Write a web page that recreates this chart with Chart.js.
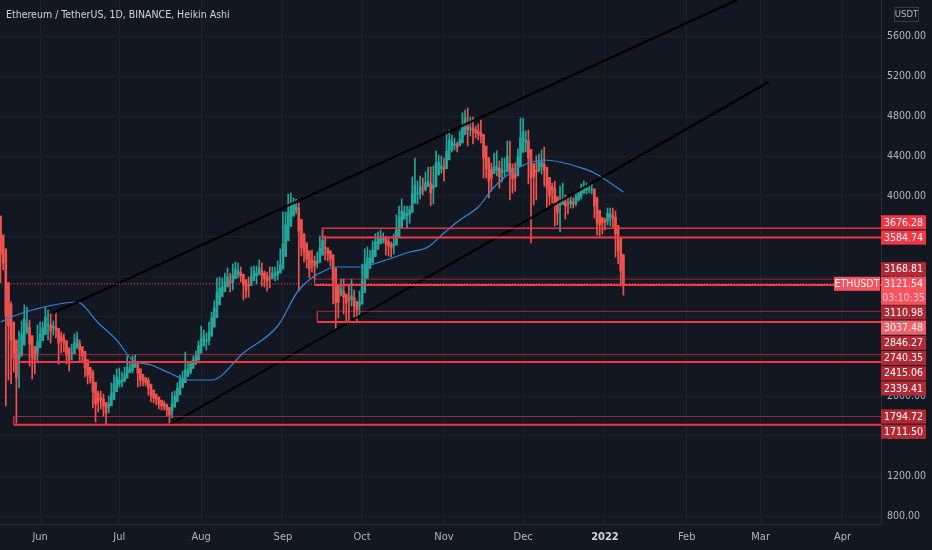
<!DOCTYPE html>
<html>
<head>
<meta charset="utf-8">
<script src="https://cdn.jsdelivr.net/npm/chart.js@4.4.0/dist/chart.umd.min.js"></script>
<style>
html, body { margin: 0; padding: 0; background: #131722; overflow: hidden; }
canvas { display: block; }
</style>
</head>
<body>
<canvas id="chart" width="932" height="550"></canvas>
<script>
// ETHUSDT daily Heikin Ashi, 17 May 2021 -> 8 Jan 2022
const title = 'Ethereum / TetherUS, 1D, BINANCE, Heikin Ashi';
const firstDay = '2021-05-17';
const firstOpen = 3800;

// Heikin Ashi closes, one per day
const closes = [
  // May 17-31
  3420, 3330, 2800, 2700, 2560, 2380, 2180, 2430, 2620, 2770, 2730, 2520, 2390, 2360, 2540,
  // Jun
  2620, 2680, 2790, 2720, 2650, 2700, 2660, 2530, 2550, 2530, 2410, 2360, 2430, 2530, 2570,
  2460, 2400, 2280, 2210, 2180, 2040, 1920, 1940, 1960, 1900, 1830, 1920, 2030, 2120, 2190,
  // Jul
  2160, 2160, 2210, 2290, 2270, 2320, 2340, 2230, 2160, 2150, 2130, 2080, 2000, 1980, 1960, 1920,
  1900, 1900, 1860, 1810, 1930, 2000, 2080, 2160, 2180, 2260, 2270, 2320, 2360, 2400, 2500,
  // Aug
  2570, 2600, 2560, 2640, 2780, 2880, 3040, 3080, 3090, 3140, 3190, 3130, 3210, 3270, 3250, 3200,
  3110, 3060, 3100, 3200, 3250, 3230, 3280, 3210, 3170, 3150, 3170, 3230, 3220, 3250, 3310,
  // Sep
  3520, 3710, 3840, 3900, 3920, 3900, 3650, 3480, 3440, 3370, 3270, 3330, 3300, 3350, 3480,
  3560, 3480, 3420, 3370, 3150, 2930, 2940, 3070, 2990, 2930, 2960, 3000, 2900, 2860, 2940,
  // Oct
  3150, 3320, 3380, 3380, 3460, 3540, 3580, 3590, 3580, 3520, 3500, 3480, 3520, 3660, 3790, 3850,
  3840, 3820, 3860, 4020, 4110, 4030, 4100, 4060, 4130, 4150, 4030, 4110, 4330, 4340, 4300,
  // Nov
  4260, 4450, 4560, 4550, 4520, 4490, 4560, 4700, 4780, 4660, 4680, 4650, 4630, 4620, 4600,
  4380, 4270, 4150, 4180, 4290, 4300, 4190, 4260, 4250, 4400, 4230, 4170, 4180, 4390, 4580,
  // Dec
  4640, 4560, 4380, 4180, 4190, 4240, 4340, 4340, 4260, 4080, 4000, 4060, 3910, 3830, 3920, 3970,
  3900, 3920, 3950, 3920, 3990, 4030, 4060, 4090, 4080, 4070, 4070, 3900, 3730, 3710, 3730,
  // Jan 1-8
  3740, 3830, 3820, 3770, 3620, 3450, 3250, 3120
];

const highs = [
  3590, 3560, 3440, 2990, 2940, 2480, 2380, 2650, 2750, 2910, 2890, 2760, 2570, 2460, 2710,
  2740, 2740, 2890, 2860, 2820, 2750, 2840, 2620, 2640, 2620, 2480, 2420, 2520, 2620, 2640,
  2560, 2440, 2400, 2290, 2290, 2260, 2010, 2050, 2050, 2020, 1920, 2000, 2130, 2210, 2270,
  2280, 2240, 2290, 2400, 2330, 2400, 2410, 2330, 2190, 2200, 2170, 2180, 2040, 2040, 2020, 1980,
  1960, 1950, 1920, 1870, 2040, 2050, 2130, 2210, 2250, 2440, 2330, 2350, 2400, 2450, 2550,
  2700, 2660, 2630, 2740, 2840, 2950, 3180, 3190, 3180, 3230, 3280, 3230, 3320, 3340, 3330, 3290,
  3170, 3140, 3190, 3290, 3300, 3300, 3360, 3330, 3250, 3240, 3290, 3290, 3290, 3350, 3470,
  3840, 3840, 4020, 4030, 3980, 3970, 3930, 3560, 3570, 3520, 3360, 3460, 3400, 3440, 3600,
  3660, 3600, 3480, 3440, 3380, 3100, 3100, 3170, 3170, 3010, 3120, 3170, 3060, 2950, 3050,
  3320, 3470, 3490, 3460, 3550, 3620, 3640, 3660, 3630, 3600, 3590, 3540, 3620, 3810, 3900, 3970,
  3900, 3900, 3900, 4190, 4380, 4150, 4200, 4180, 4240, 4290, 4290, 4300, 4450, 4410, 4400,
  4380, 4620, 4660, 4610, 4580, 4540, 4650, 4830, 4860, 4880, 4790, 4790, 4700, 4720, 4760,
  4590, 4320, 4350, 4330, 4430, 4450, 4350, 4380, 4380, 4550, 4550, 4320, 4330, 4470, 4780,
  4780, 4650, 4660, 4230, 4240, 4400, 4420, 4460, 4490, 4200, 4100, 4130, 4150, 3880, 4100, 4130,
  4010, 3990, 4000, 3980, 4050, 4050, 4120, 4150, 4130, 4120, 4130, 4060, 3830, 3780, 3780,
  3780, 3880, 3880, 3880, 3850, 3580, 3420, 3200
];

const lows = [
  3130, 3260, 1900, 2160, 2120, 2240, 1730, 2080, 2400, 2650, 2620, 2300, 2170, 2220, 2340,
  2520, 2560, 2690, 2560, 2530, 2610, 2580, 2320, 2430, 2440, 2320, 2250, 2360, 2460, 2500,
  2340, 2340, 2190, 2120, 2130, 1880, 1740, 1840, 1870, 1800, 1710, 1830, 1960, 2060, 2130,
  2090, 2090, 2140, 2220, 2240, 2230, 2290, 2090, 2100, 2100, 2100, 2010, 1940, 1930, 1910, 1870,
  1860, 1860, 1800, 1720, 1780, 1960, 2030, 2130, 2140, 2190, 2200, 2220, 2300, 2350, 2440,
  2450, 2540, 2460, 2510, 2740, 2800, 2880, 2990, 2990, 3060, 3110, 3040, 3060, 3190, 3180, 3140,
  2960, 2980, 2990, 3150, 3200, 3120, 3210, 3100, 3090, 3050, 3080, 3180, 3150, 3160, 3270,
  3400, 3680, 3760, 3830, 3850, 3820, 3050, 3400, 3340, 3280, 3180, 3240, 3160, 3280, 3420,
  3480, 3360, 3350, 3300, 2920, 2660, 2780, 3000, 2820, 2750, 2740, 2900, 2790, 2740, 2800,
  2980, 3260, 3310, 3280, 3380, 3420, 3520, 3520, 3530, 3410, 3400, 3390, 3420, 3580, 3760, 3800,
  3780, 3680, 3730, 3840, 3930, 3920, 3970, 4010, 4050, 4100, 3900, 3920, 4180, 4250, 4230,
  4150, 4320, 4490, 4440, 4460, 4440, 4520, 4620, 4720, 4500, 4600, 4520, 4580, 4560, 4530,
  4180, 4180, 3980, 4050, 4230, 4200, 4080, 4140, 4200, 4240, 3960, 4030, 4050, 4300, 4400,
  4520, 4440, 4120, 3530, 3910, 3960, 4250, 4220, 4100, 3880, 3910, 3930, 3700, 3710, 3640, 3920,
  3770, 3820, 3880, 3880, 3900, 3950, 3970, 4050, 4020, 4030, 4020, 3780, 3610, 3600, 3620,
  3660, 3710, 3700, 3680, 3390, 3320, 3100, 3010
];

// moving average
const maDates = ['2021-05-17', '2021-05-22', '2021-05-29', '2021-06-15', '2021-06-23', '2021-06-30',
  '2021-07-06', '2021-07-13', '2021-07-20', '2021-07-27', '2021-08-05', '2021-08-17', '2021-08-30',
  '2021-09-07', '2021-09-19', '2021-09-21', '2021-09-30', '2021-10-10', '2021-10-19', '2021-10-26',
  '2021-11-01', '2021-11-07', '2021-11-14', '2021-11-20', '2021-11-26', '2021-12-03', '2021-12-09',
  '2021-12-15', '2021-12-22', '2021-12-28', '2022-01-03', '2022-01-08'];
const maValues = [2740, 2800, 2860, 2940, 2730, 2560, 2360, 2310, 2230, 2160, 2160, 2430, 2700,
  3060, 3280, 3290, 3290, 3360, 3440, 3490, 3630, 3760, 3890, 4090, 4230, 4330, 4360,
  4340, 4290, 4230, 4130, 4040];

// channel lines [date, price]
const upperChannel = [['2021-06-06', 2830], ['2022-02-20', 5960]];
const lowerChannel = [['2021-07-20', 1711.5], ['2022-03-04', 5140]];

// support / resistance zones
const zoneTops = [3676.28, 3168.81, 2846.27, 2415.06, 1794.72];
const zoneBottoms = [3584.74, 3110.98, 2740.35, 2339.41, 1711.50];
const zoneStarts = ['2021-09-16', '2021-09-13', '2021-09-14', '2021-05-22', '2021-05-22'];

const symbol = 'ETHUSDT';
const lastPrice = 3121.54;
const countdown = '03:10:35';
const haLastClose = 3037.48;

const monthTicks = ['2021-06-01', '2021-07-01', '2021-08-01', '2021-09-01', '2021-10-01', '2021-11-01',
  '2021-12-01', '2022-01-01', '2022-02-01', '2022-03-01', '2022-04-01'];
const monthLabels = ['Jun', 'Jul', 'Aug', 'Sep', 'Oct', 'Nov', 'Dec', '2022', 'Feb', 'Mar', 'Apr'];
const priceTicks = [800, 1200, 1600, 2000, 2400, 2800, 3200, 3600, 4000, 4400, 4800, 5200, 5600];

// ---------------------------------------------------------------
const FONT = '"DejaVu Sans Condensed", "Liberation Sans", sans-serif';
const BG = '#131722';
const BULL = '#26a69a';
const BEAR = '#ef5350';
const LEVEL = '#f23645';
const X_MIN = -15.2, X_MAX = 318.6;

const origin = Date.UTC(2021, 5, 1);
function dayOf(s) {
  const p = s.split('-').map(Number);
  return (Date.UTC(p[0], p[1] - 1, p[2]) - origin) / 864e5;
}

// heikin ashi open = middle of the previous body
const start = dayOf(firstDay);
const bodies = [], wicks = [], colors = [];
let open = firstOpen;
closes.forEach((c, i) => {
  if (i > 0) open = (open + closes[i - 1]) / 2;
  const x = start + i;
  bodies.push({ x: x, y: [open, c] });
  wicks.push({ x: x, y: [Math.min(lows[i], open, c), Math.max(highs[i], open, c)] });
  colors.push(c >= open ? BULL : BEAR);
});

const datasets = [
  { type: 'bar', data: wicks, backgroundColor: colors, barThickness: 1, grouped: false, order: 10 },
  { type: 'bar', data: bodies, backgroundColor: colors, barThickness: 2, grouped: false, order: 9 },
  {
    type: 'line', data: maDates.map((d, i) => ({ x: dayOf(d), y: maValues[i] })),
    borderColor: '#2f86d6', borderWidth: 1.2, pointRadius: 0, tension: 0.4,
    cubicInterpolationMode: 'monotone', order: 5
  }
];
[upperChannel, lowerChannel].forEach(ch => {
  datasets.push({
    type: 'line', data: ch.map(p => ({ x: dayOf(p[0]), y: p[1] })),
    borderColor: '#000000', borderWidth: 2.2, pointRadius: 0, order: 4
  });
});
zoneTops.forEach((top, i) => {
  const s = dayOf(zoneStarts[i]), bottom = zoneBottoms[i];
  datasets.push({
    type: 'line', data: [{ x: X_MAX + 5, y: top }, { x: s, y: top }, { x: s, y: bottom }],
    borderColor: i === 0 ? 'rgba(242,54,69,0.9)' : 'rgba(242,54,69,0.6)',
    borderWidth: i === 0 ? 1.5 : 1, pointRadius: 0, order: 3
  });
  datasets.push({
    type: 'line', data: [{ x: s, y: bottom }, { x: X_MAX + 5, y: bottom }],
    borderColor: LEVEL, borderWidth: 2, pointRadius: 0, order: 3
  });
});
datasets.push({
  type: 'line', data: [{ x: X_MIN - 5, y: lastPrice }, { x: X_MAX + 5, y: lastPrice }],
  borderColor: '#f7525f', borderWidth: 1, borderDash: [1, 2], pointRadius: 0, order: 2
});

function labelColor(p) {
  if (p === 3676.28 || p === 3584.74) return LEVEL;
  if (p === haLastClose) return '#f4606a';
  return '#b22833';
}

const overlay = {
  id: 'overlay',
  // the plot runs right up to the top edge of the canvas
  afterLayout(c) {
    const a = c.chartArea, ys = c.scales.y;
    a.top = 0;
    a.height = a.bottom;
    ys.top = 0;
    ys.height = ys.bottom;
    ys.configure();
  },
  beforeDraw(c) {
    const ctx = c.ctx;
    ctx.save();
    ctx.fillStyle = BG;
    ctx.fillRect(0, 0, c.width, c.height);
    ctx.restore();
  },
  afterDraw(c) {
    const ctx = c.ctx, ys = c.scales.y, right = c.chartArea.right;
    ctx.save();
    // title
    ctx.font = '10.5px ' + FONT;
    ctx.fillStyle = '#d1d4dc';
    ctx.textBaseline = 'middle';
    ctx.textAlign = 'left';
    ctx.fillText(title, 6, 15);

    // currency box
    ctx.strokeStyle = '#363a45';
    ctx.lineWidth = 1;
    ctx.strokeRect(894.5, 7.5, 24, 14);
    ctx.font = '9.5px ' + FONT;
    ctx.fillStyle = '#b2b5be';
    ctx.textAlign = 'center';
    ctx.fillText('USDT', 906.5, 15);

    // price labels on the axis
    const H = 15.2, W = 45;
    const LABEL_FONT = '10.5px ' + FONT;
    function box(y, p) {
      ctx.fillStyle = labelColor(p);
      ctx.fillRect(right, y - H / 2 + 0.5, W, H - 1);
      ctx.fillStyle = '#ffffff';
      ctx.font = LABEL_FONT;
      ctx.textAlign = 'center';
      ctx.fillText(p.toFixed(2), right + W / 2, y + 0.5);
    }
    const ay = ys.getPixelForValue(lastPrice);
    const aTop = ay - 7, aBottom = ay + 21;
    ctx.fillStyle = '#f7525f';
    ctx.fillRect(right, aTop, W, aBottom - aTop);
    ctx.fillRect(right - 47, aTop, 46, 14);
    ctx.fillStyle = '#ffffff';
    ctx.font = LABEL_FONT;
    ctx.textAlign = 'center';
    ctx.fillText(lastPrice.toFixed(2), right + W / 2, ay + 0.5);
    ctx.fillText(symbol, right - 24, ay + 0.5);
    ctx.fillStyle = 'rgba(255,255,255,0.72)';
    ctx.fillText(countdown, right + W / 2, ay + 14.5);

    const prices = zoneTops.concat(zoneBottoms, [haLastClose]);
    const above = prices.filter(p => p > lastPrice).sort((a, b) => a - b);
    const below = prices.filter(p => p < lastPrice).sort((a, b) => b - a);
    let lim = aTop;
    above.forEach(p => {
      const y = Math.min(ys.getPixelForValue(p), lim - H / 2);
      lim = y - H / 2;
      box(y, p);
    });
    lim = aBottom;
    below.forEach(p => {
      const y = Math.max(ys.getPixelForValue(p), lim + H / 2);
      lim = y + H / 2;
      box(y, p);
    });
    ctx.restore();
  }
};

Chart.defaults.font.family = FONT;

new Chart(document.getElementById('chart'), {
  type: 'bar',
  data: { datasets: datasets },
  options: {
    responsive: false,
    animation: false,
    events: [],
    layout: { padding: 0, autoPadding: false },
    plugins: { legend: { display: false }, tooltip: { enabled: false } },
    scales: {
      x: {
        type: 'linear', min: X_MIN, max: X_MAX, offset: false,
        grid: { color: '#1d212c', drawTicks: false, offset: false },
        border: { color: '#2a2e39' },
        afterBuildTicks: s => { s.ticks = monthTicks.map(d => ({ value: dayOf(d) })); },
        afterFit: s => { s.height = 26; },
        ticks: {
          autoSkip: false, maxRotation: 0, padding: 7,
          callback: (v, i) => monthLabels[i],
          color: ctx => (ctx.tick && ctx.tick.label === '2022') ? '#d1d4dc' : '#b2b5be',
          font: ctx => ({ size: 11, weight: (ctx.tick && ctx.tick.label === '2022') ? 'bold' : 'normal' })
        }
      },
      y: {
        type: 'linear', position: 'right', min: 720, max: 5960,
        grid: { color: '#1d212c', drawTicks: false },
        border: { color: '#2a2e39' },
        afterBuildTicks: s => { s.ticks = priceTicks.map(v => ({ value: v })); },
        afterFit: s => { s.width = 51; },
        ticks: {
          autoSkip: false, padding: 6, color: '#b2b5be',
          font: { size: 10.5 },
          callback: v => v.toFixed(2)
        }
      }
    }
  },
  plugins: [overlay]
});
</script>
</body>
</html>
